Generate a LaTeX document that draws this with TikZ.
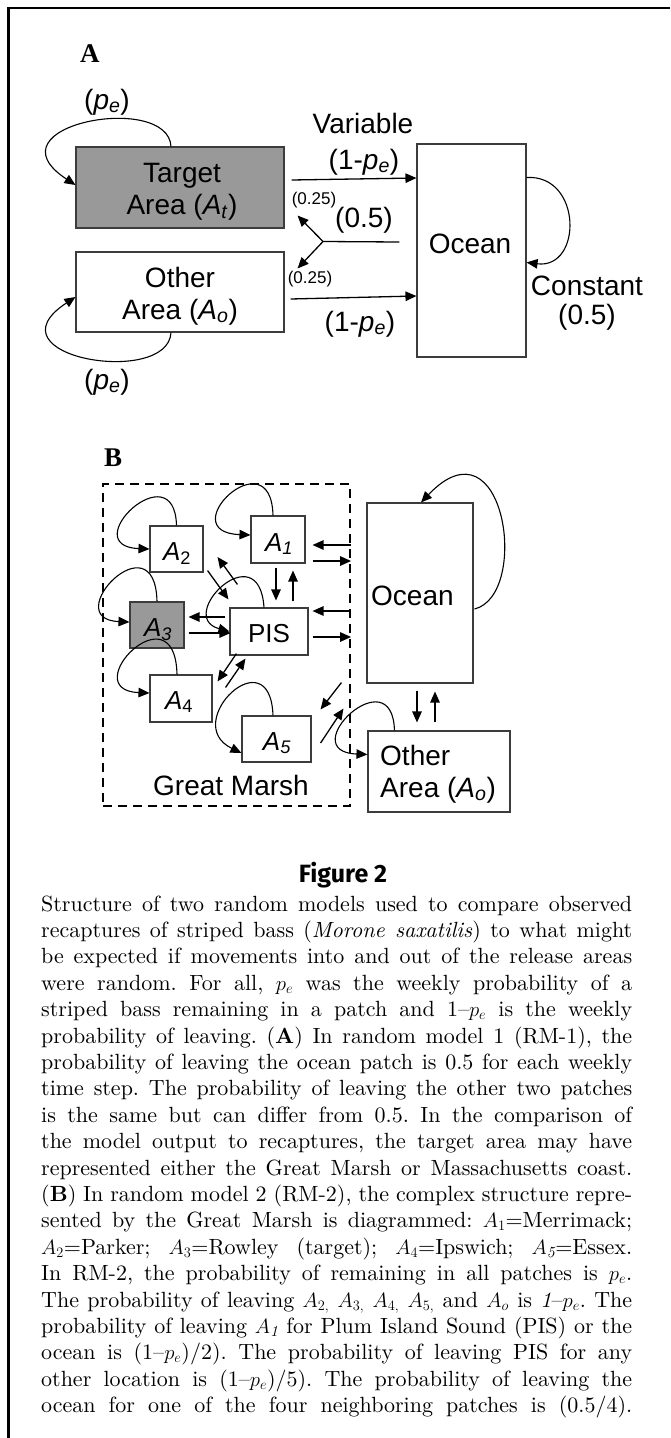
\documentclass[tikz,border=0pt]{standalone}
\usepackage{fontspec}
\setmainfont{lmroman10-regular}[Extension=.otf, BoldFont=lmroman10-bold, ItalicFont=lmroman10-italic, BoldItalicFont=lmroman10-bolditalic]
\usetikzlibrary{arrows.meta,calc}
\newfontfamily\arialf{Liberation Sans}
\newfontfamily\serifb{Liberation Serif}
\newfontfamily\figf{Fira Sans}
\definecolor{boxgray}{RGB}{153,153,153}
\definecolor{edgecol}{RGB}{60,60,60}
\newcommand{\myPe}{\textit{p}\textsubscript{\textit{e}}}
\frenchspacing
\begin{document}
\begin{tikzpicture}[x=1pt,y=-1pt,
  box/.style={draw=edgecol, line width=1.1pt, inner sep=0pt},
  lab/.style={inner sep=0pt, anchor=base, font=\arialf\fontsize{28}{34}\selectfont},
  labl/.style={lab, anchor=base west},
  sml/.style={inner sep=0pt, anchor=base, font=\arialf\fontsize{17}{20}\selectfont},
  blab/.style={inner sep=0pt, anchor=base, font=\arialf\fontsize{26}{30}\selectfont},
  panel/.style={anchor=base west, inner sep=0pt, font=\serifb\bfseries\fontsize{27}{30}\selectfont},
  arr/.style={-{Triangle[length=11pt,width=9.5pt]}, line width=1.3pt},
  lp/.style={-{Triangle[length=11pt,width=9.5pt]}, line width=1.1pt},
  capline/.style={anchor=base west, inner sep=0pt, font=\fontsize{22}{26.4}\selectfont\frenchspacing},
]
\useasboundingbox (0,0) rectangle (670,1438);
% frame
\draw[line width=2.2pt] (670,8) -- (8.5,8) -- (8.5,1438);

% ================= Panel A =================
\node[panel] (labA) at (80,62) {A};
\node[box, fill=boxgray, minimum width=208pt, minimum height=81pt] (tgt) at (180,187.5) {};
\node[lab] (tgt1) at (182,182) {Target};
\node[lab] (tgt2) at (182,214) {Area (\textit{A}\textsubscript{\textit{t}})};
\node[box, minimum width=208pt, minimum height=80pt] (oth) at (180,292) {};
\node[lab] (oth1) at (180,287) {Other};
\node[lab] (oth2) at (180,319) {Area (\textit{A}\textsubscript{\textit{o}})};
\node[box, minimum width=109pt, minimum height=213pt] (ocA) at (471.5,250.5) {};
\node[lab] (ocA1) at (470,253) {Ocean};

\node[lab] (pe1) at (107,109) {(\myPe)};
\node[lab] (var) at (363,133) {Variable};
\node[lab] (lpe1) at (364,169) {(1-\myPe)};
\node[sml] (q1) at (314,204.5) {(0.25)};
\node[lab] (half1) at (364,227) {(0.5)};
\node[sml] (q2) at (310,283.5) {(0.25)};
\node[lab] (cst) at (587,295) {Constant};
\node[lab] (half2) at (587,324) {(0.5)};
\node[lab] (lpe2) at (360,331) {(1-\myPe)};
\node[lab] (pe2) at (107,389) {(\myPe)};

\draw[arr] ($(tgt.east)+(7,-7.5)$) -- ($(ocA.west)+(0,-72.5)$);
\draw[arr] ($(oth.east)+(6,7)$) -- ($(ocA.west)+(0,45.5)$);
\coordinate (brs) at ($(ocA.west)+(-17,-8.5)$);
\coordinate (br) at (323,241.5);
\draw[line width=1.3pt] (brs) -- (br);
\draw[arr] (br) -- ($(tgt.south east)+(13,-13)$);
\draw[arr] (br) -- ($(oth.north east)+(13,17)$);

\draw[lp] ($(tgt.north)+(-9,0)$) .. controls +(-3,-55) and +(-91,-60) .. ($(tgt.west)+(0,-2.5)$);
\draw[lp] ($(oth.south)+(-9,0)$) .. controls +(-3,55) and +(-91,60) .. ($(oth.west)+(0,5)$);
\draw[lp] ($(ocA.north east)+(0,34)$) .. controls +(56,-3) and +(56,7) .. ($(ocA.north east)+(0,119)$);

% ================= Panel B =================
\node[panel] (labB) at (104,466) {B};
\node[draw, line width=2.2pt, dash pattern=on 9pt off 6pt, minimum width=247pt, minimum height=322pt, inner sep=0pt] (gm) at (226.5,645) {};
\node[lab] (gmL) at (231,795) {Great Marsh};

\node[box, minimum width=54pt, minimum height=47pt] (a1) at (278,539.5) {};
\node[box, minimum width=53pt, minimum height=46pt] (a2) at (176.5,549) {};
\node[box, fill=boxgray, minimum width=54pt, minimum height=46pt] (a3) at (157,625) {};
\node[box, minimum width=78pt, minimum height=47pt] (pis) at (269,631.5) {};
\node[box, minimum width=62pt, minimum height=47pt] (a4) at (181,698.5) {};
\node[box, minimum width=69pt, minimum height=46pt] (a5) at (276.5,739) {};
\node[box, minimum width=106pt, minimum height=180pt] (ocB) at (420,593) {};
\node[box, minimum width=142pt, minimum height=81pt] (othB) at (439,771.5) {};

\node[blab] (a1L) at (279,551) {\textit{A}\textsubscript{\textit{1}}};
\node[blab] (a2L) at (177,560) {\textit{A}\textsubscript{2}};
\node[blab] (a3L) at (158,636) {\textit{A}\textsubscript{\textit{3}}};
\node[blab] (pisL) at (269,642) {PIS};
\node[blab] (a4L) at (179,709) {\textit{A}\textsubscript{4}};
\node[blab] (a5L) at (277,750) {\textit{A}\textsubscript{\textit{5}}};
\node[labl] (ocBL) at (371,605) {Ocean};
\node[labl] (othB1) at (380,765) {Other};
\node[labl] (othB2) at (380,797) {Area (\textit{A}\textsubscript{\textit{o}})};

% self loops
\draw[lp] (a2.north) .. controls +(-2,-75) and +(-75,-3) .. (a2.west);
\draw[lp] ($(a1.north)+(-5,0)$) .. controls +(-2,-80) and +(-80,-3) .. ($(a1.west)+(0,-4.5)$);
\draw[lp] (a3.north) .. controls +(-2,-85) and +(-72,-3) .. ($(a3.west)+(0,-3)$);
\draw[lp] ($(pis.north)+(-5,0)$) .. controls +(-5,-75) and +(-55,-15) .. (pis.west);
\draw[lp] ($(a4.north)+(-4,0)$) .. controls +(-2,-88) and +(-75,-3) .. ($(a4.west)+(0,-5.5)$);
\draw[lp] ($(a5.north)+(-3.5,0)$) .. controls +(-3,-80) and +(-62,-30) .. ($(a5.west)+(0,14)$);
\draw[lp] ($(othB.north west)+(27,0)$) .. controls +(-2,-75) and +(-75,-3) .. ($(othB.north west)+(0,24)$);
\draw[lp] ($(ocB.east)+(1,16)$) .. controls +(56,-14) and +(84,-88) .. ($(ocB.north)+(1,0)$);

% connectors
\draw[arr] ($(a1.east -| gm.east)+(0,5.5)$) -- ($(a1.east)+(7,5.5)$);
\draw[arr] ($(a1.east)+(7,21.5)$) -- ($(a1.east -| gm.east)+(0,21.5)$);
\draw[arr] ($(pis.east -| gm.east)+(0,-20.5)$) -- ($(pis.east)+(4,-20.5)$);
\draw[arr] ($(pis.east)+(4,5.5)$) -- ($(pis.east -| gm.east)+(0,5.5)$);
\draw[arr] ($(a1.south)+(-2,4)$) -- ($(pis.north)+(7,-7)$);
\draw[arr] ($(pis.north)+(24,-6)$) -- ($(a1.south)+(15,7)$);
\draw[arr] ($(a2.south east)+(4,-2)$) -- ($(pis.north west)+(-1,-8)$);
\draw[arr] ($(pis.north west)+(8,-23)$) -- ($(a2.east)+(14,8)$);
\draw[arr] ($(pis.west)+(-4,-14.5)$) -- ($(a3.east)+(4,-8)$);
\draw[arr] ($(a3.east)+(4,8)$) -- ($(pis.west)+(1,1.5)$);
\draw[arr] ($(pis.south west)+(7,-2)$) -- ($(a4.north east)+(5,7)$);
\draw[arr] ($(a4.north east)+(13,13)$) -- ($(pis.south west)+(16,3)$);
\draw[arr] ($(ocB.south west)+(-25,-1)$) -- ($(a5.north east)+(9,-6)$);
\draw[arr] ($(a5.east)+(9,4)$) -- ($(ocB.south west)+(-23,25)$);
\draw[arr] ($(ocB.south)+(-3,7)$) -- ($(othB.north)+(-22,-8)$);
\draw[arr] ($(othB.north)+(-4,-8)$) -- ($(ocB.south)+(15,8)$);

% ================= Caption =================
\node[anchor=base, inner sep=0pt, font=\figf\bfseries\fontsize{25}{30}\selectfont] (fig) at (343,882) {Figure 2};
\foreach \t [count=\i] in {
 {Structure of two random models used to compare observed},
 {recaptures of striped bass (\textit{Morone saxatilis}) to what might},
 {be expected if movements into and out of the release areas},
 {were random. For all, $p_e$ was the weekly probability of a},
 {striped bass remaining in a patch and 1--$p_e$ is the weekly},
 {probability of leaving. (\textbf{A}) In random model 1 (RM-1), the},
 {probability of leaving the ocean patch is 0.5 for each weekly},
 {time step. The probability of leaving the other two patches},
 {is the same but can differ from 0.5. In the comparison of},
 {the model output to recaptures, the target area may have},
 {represented either the Great Marsh or Massachusetts coast.},
 {(\textbf{B}) In random model 2 (RM-2), the complex structure repre-},
 {sented by the Great Marsh is diagrammed: $A_1$=Merrimack;},
 {$A_2$=Parker; $A_3$=Rowley (target); $A_4$=Ipswich; $A_{\mathit{5}}$=Essex.},
 {In RM-2, the probability of remaining in all patches is $p_e$.},
 {The probability of leaving $A_{2,}$ $A_{3,}$ $A_{4,}$ $A_{5,}$ and $A_o$ is \textit{1}--$p_e$. The},
 {probability of leaving $A_{\mathit{1}}$ for Plum Island Sound (PIS) or the},
 {ocean is (1--$p_e$)/2). The probability of leaving PIS for any},
 {other location is (1--$p_e$)/5). The probability of leaving the},
 {ocean for one of the four neighboring patches is (0.5/4).}}
{
  \node[capline] (cap\i) at (41,{911+26.4*(\i-1)}) {\makebox[591pt][s]{\t}};
}
\end{tikzpicture}
\end{document}
